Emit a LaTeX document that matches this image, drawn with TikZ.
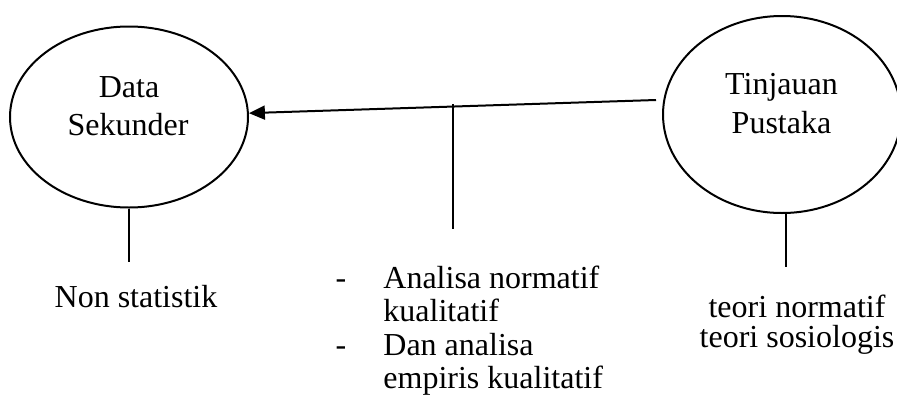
\documentclass[tikz,border=0pt]{standalone}
\usepackage{fontspec}
\setmainfont{Liberation Serif}
\usetikzlibrary{shapes.geometric,arrows.meta}
\tikzset{
  oval/.style={draw, ellipse, line width=1pt, inner sep=0pt},
  lbl/.style={anchor=base, inner sep=0pt, font=\fontsize{16}{19}\selectfont},
  lblw/.style={anchor=base west, inner sep=0pt, font=\fontsize{16}{19}\selectfont},
  conn/.style={line width=1pt},
}
\begin{document}
\begin{tikzpicture}[x=0.5pt,y=-0.5pt]
\useasboundingbox (0,0) rectangle (897,412);
% ellipses
\node[oval, minimum width=119pt, minimum height=90.5pt] (L) at (129,117) {};
\node[oval, minimum width=119pt, minimum height=98.5pt] (R) at (782,114.5) {};
% ellipse texts
\node[lbl] (l1) at (129,97) {Data};
\node[lbl] (l2) at (128,135) {Sekunder};
\node[lbl] (r1) at (781.5,94) {Tinjauan};
\node[lbl] (r2) at (781.5,133) {Pustaka};
% connectors
\coordinate (a1) at (656,100);
\draw[conn, -{Triangle[length=8pt,width=7pt]}] (a1) -- (L);
\coordinate (m1) at (453,104);
\coordinate (m2) at (453,229);
\draw[conn] (m1) -- (m2);
\coordinate (ls) at (129,262);
\draw[conn] (L.south) -- (ls);
\coordinate (rt) at (786,213);
\coordinate (rs) at (786,267);
\draw[conn] (rt) -- (rs);
% bottom texts
\node[lbl] (ns) at (136,307) {Non statistik};
\node[lbl] (d1) at (341,288) {-};
\node[lblw] (t1) at (383,288) {Analisa normatif};
\node[lblw] (t2) at (383,321) {kualitatif};
\node[lbl] (d2) at (341,355) {-};
\node[lblw] (t3) at (383,355) {Dan analisa};
\node[lblw] (t4) at (383,388) {empiris kualitatif};
\node[lbl] (tn) at (797,317) {teori normatif};
\node[lbl] (tsos) at (797,347) {teori sosiologis};
\end{tikzpicture}
\end{document}
